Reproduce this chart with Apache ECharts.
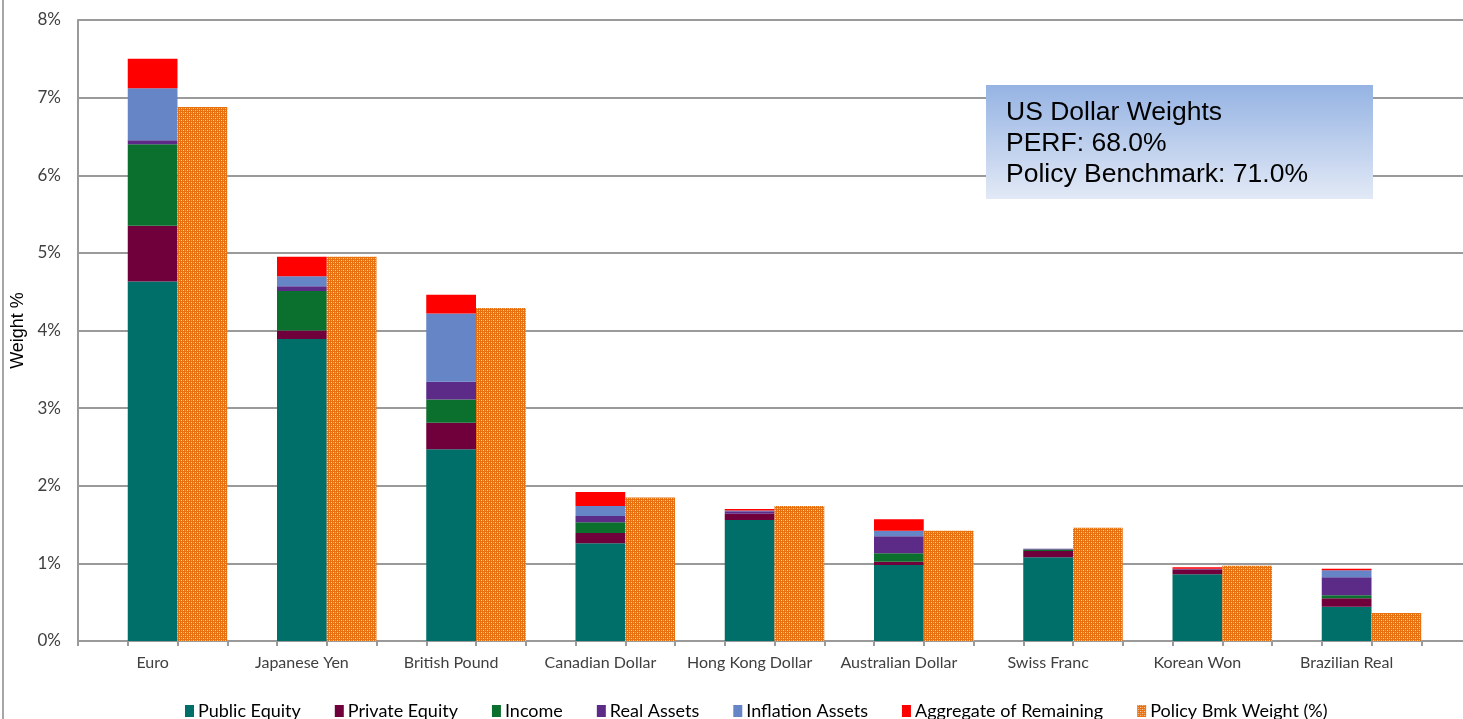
<!DOCTYPE html>
<html>
<head>
<meta charset="utf-8">
<script src="https://cdn.jsdelivr.net/npm/echarts@6/dist/echarts.min.js"></script>
<style>
html,body{margin:0;padding:0;background:#fff;}
#chart{width:1463px;height:719px;}
</style>
</head>
<body>
<div id="chart"></div>
<script>
// ---- data ----
const categories = ['Euro','Japanese Yen','British Pound','Canadian Dollar','Hong Kong Dollar','Australian Dollar','Swiss Franc','Korean Won','Brazilian Real'];
const publicEquity    = [4.63, 3.89, 2.47, 1.26, 1.56, 0.98, 1.08, 0.86, 0.44];
const privateEquity   = [0.72, 0.11, 0.34, 0.13, 0.08, 0.04, 0.08, 0.06, 0.11];
const income          = [1.05, 0.51, 0.30, 0.14, 0.00, 0.11, 0.02, 0.00, 0.04];
const realAssets      = [0.05, 0.06, 0.23, 0.08, 0.03, 0.22, 0.01, 0.01, 0.23];
const inflationAssets = [0.67, 0.13, 0.88, 0.13, 0.01, 0.07, 0.00, 0.00, 0.09];
const aggregate       = [0.38, 0.25, 0.24, 0.18, 0.02, 0.15, 0.00, 0.02, 0.02];
const policyBmk       = [6.88, 4.95, 4.29, 1.85, 1.74, 1.42, 1.46, 0.97, 0.36];
const yTicks = [0,1,2,3,4,5,6,7,8];
const boxLines = ['US Dollar Weights','PERF: 68.0%','Policy Benchmark: 71.0%'];

// ---- layout: each currency occupies 3 slots (gap, stacked bar, policy bar) ----
const xSlots = [];
categories.forEach(c => { xSlots.push('', c, ''); });
xSlots.push('');
function atStack(arr){ const out = xSlots.map(()=>null); arr.forEach((v,i)=>{ out[3*i+1]=v; }); return out; }
function atPolicy(arr){ const out = xSlots.map(()=>null); arr.forEach((v,i)=>{ out[3*i+2]=v; }); return out; }

// pattern for policy bars
const pc = document.createElement('canvas');
pc.width = 4; pc.height = 4;
const g = pc.getContext('2d');
g.fillStyle = '#E8700E'; g.fillRect(0,0,4,4);
g.fillStyle = '#FBD9B8';
g.fillRect(1,0,1,1); g.fillRect(3,2,1,1);
g.fillStyle = '#F3A565';
g.fillRect(1,2,1,1); g.fillRect(3,0,1,1);

const stackSeries = [
  ['Public Equity', publicEquity, '#006E69'],
  ['Private Equity', privateEquity, '#70003C'],
  ['Income', income, '#0B6F2D'],
  ['Real Assets', realAssets, '#5C2A87'],
  ['Inflation Assets', inflationAssets, '#6585C7'],
  ['Aggregate of Remaining', aggregate, '#FF0000']
].map(([name, arr, color]) => ({
  name, type:'bar', stack:'w', data: atStack(arr), barWidth:'100%',
  itemStyle:{color}, emphasis:{disabled:true}
}));

const series = stackSeries.concat([{
  name:'Policy Bmk Weight (%)', type:'bar', stack:'w', data: atPolicy(policyBmk), barWidth:'100%',
  itemStyle:{color:{image:pc, repeat:'repeat'}}, emphasis:{disabled:true}
}]);

const chart = echarts.init(document.getElementById('chart'), null, {renderer:'canvas'});
chart.setOption({
  animation:false,
  textStyle:{fontFamily:'Lato'},
  grid:{left:78, top:20, width:1393, height:621, containLabel:false, outerBoundsMode:'none'},
  xAxis:{
    type:'category', data:xSlots, boundaryGap:true,
    axisLine:{lineStyle:{color:'#9A9A9A', width:2}},
    axisTick:{show:true, interval:0, length:5, lineStyle:{color:'#9A9A9A', width:2}},
    axisLabel:{interval:0, color:'#404040', fontSize:16, fontFamily:'Lato', margin:14}
  },
  yAxis:{
    type:'value', min:yTicks[0], max:yTicks[yTicks.length-1], interval:1,
    name:'Weight %', nameLocation:'middle', nameGap:43, nameRotate:90,
    nameTextStyle:{fontFamily:'Liberation Sans', fontSize:18, color:'#000'},
    axisLine:{show:true, lineStyle:{color:'#9A9A9A', width:2}},
    axisTick:{show:false},
    axisLabel:{formatter:'{value}%', color:'#404040', fontSize:17, fontFamily:'Lato', margin:17},
    splitLine:{lineStyle:{color:'#9A9A9A', width:2}}
  },
  legend:{
    left:180, top:697, itemWidth:9, itemHeight:12, itemGap:34,
    icon:'rect',
    textStyle:{fontFamily:'Lato', fontSize:18, color:'#000', padding:[0,0,0,-1]},
    data:['Public Equity','Private Equity','Income','Real Assets','Inflation Assets','Aggregate of Remaining','Policy Bmk Weight (%)']
  },
  graphic:[
    {type:'line', shape:{x1:3, y1:0, x2:3, y2:719}, style:{stroke:'#A6A6A6', lineWidth:2}, silent:true},
    {type:'rect', shape:{x:986, y:85, width:387, height:114}, z:100,
     style:{fill:new echarts.graphic.LinearGradient(0,0,0,1,[{offset:0,color:'#95B3E3'},{offset:1,color:'#E2E9F6'}])}},
    {type:'text', x:1006, y:97, z:101,
     style:{text:boxLines.join('\n'), font:'26.5px "Liberation Sans"', lineHeight:31, fill:'#000'}}
  ],
  series
});
</script>
</body>
</html>
